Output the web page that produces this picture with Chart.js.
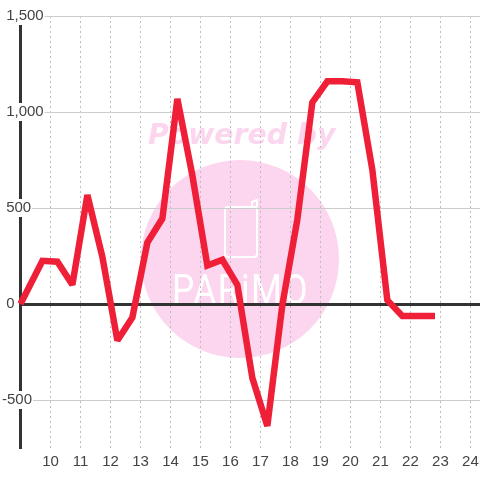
<!DOCTYPE html>
<html>
<head>
<meta charset="utf-8">
<style>
  html, body { margin: 0; padding: 0; background: #fff; }
  canvas { display: block; }
</style>
</head>
<body>
<canvas id="grafico" width="480" height="480"></canvas>
<script src="https://cdn.jsdelivr.net/npm/chart.js@4"></script>
<script>
const hours = [9, 9.73, 10.23, 10.73, 11.23, 11.73, 12.23, 12.73, 13.23, 13.73, 14.23, 14.73, 15.23, 15.73, 16.23, 16.73, 17.23, 17.73, 18.23, 18.73, 19.23, 19.73, 20.23, 20.73, 21.23, 21.73, 22.23, 22.82];
const values = [0, 225, 220, 100, 568, 245, -190, -70, 320, 445, 1068, 670, 200, 230, 100, -385, -635, -5, 440, 1050, 1160, 1160, 1155, 700, 20, -62, -62, -62];

const xTicks = [9, 10, 11, 12, 13, 14, 15, 16, 17, 18, 19, 20, 21, 22, 23, 24];
const yTicks = [-750, -500, -250, 0, 250, 500, 750, 1000, 1250, 1500];
const yLabels = [null, '-500', null, ' 0', null, ' 500', null, ' 1,000', null, ' 1,500'];

const pink = '#fbd6ee';

// logo de fondo, va debajo de la rejilla
const watermark = {
  id: 'watermark',
  beforeDraw(chart) {
    const c = chart.ctx;
    c.save();
    c.fillStyle = '#fff';
    c.fillRect(0, 0, 480, 480);

    c.fillStyle = pink;
    c.beginPath();
    c.arc(240, 259, 99, 0, Math.PI * 2);
    c.fill();

    c.font = 'italic bold 28.3px "DejaVu Sans"';
    c.textAlign = 'left';
    c.textBaseline = 'alphabetic';
    c.fillText('Powered by', 148, 144);

    c.strokeStyle = '#fff';
    c.lineWidth = 2;
    c.beginPath();
    c.roundRect(225, 207, 32, 50, 3);
    c.moveTo(252, 207);
    c.lineTo(252, 202);
    c.lineTo(257, 200);
    c.lineTo(257, 207);
    c.stroke();

    c.fillStyle = '#fff';
    c.font = '400 43px Roboto';
    c.letterSpacing = '1.8px';
    c.translate(172, 304);
    c.scale(0.82, 1);
    c.fillText('PARiMO', 0, 0);
    c.restore();
  },
  beforeDatasetsDraw(chart) {
    // picos cortados como en el original
    chart.ctx.miterLimit = 2;
  }
};

new Chart(document.getElementById('grafico').getContext('2d'), {
  type: 'line',
  data: {
    datasets: [{
      data: hours.map((h, i) => ({ x: h, y: values[i] })),
      borderColor: '#f01f38',
      borderWidth: 6.5,
      borderJoinStyle: 'miter',
      tension: 0,
      pointRadius: 0,
      clip: false
    }]
  },
  options: {
    responsive: false,
    animation: false,
    layout: { padding: { left: 2, top: 16, right: 0, bottom: 0 } },
    plugins: { legend: { display: false }, title: { display: false }, tooltip: { enabled: false } },
    scales: {
      x: {
        type: 'linear',
        min: 9,
        max: 24.32,
        afterBuildTicks(scale) { scale.ticks = xTicks.map(v => ({ value: v })); },
        afterFit(scale) {
          scale.height = 32;
          scale.paddingLeft = 0;
          scale.paddingRight = 0;
        },
        border: { display: false, dash: [2, 3] },
        grid: { color: '#bdbdbd', lineWidth: 1, drawTicks: false },
        ticks: {
          autoSkip: false,
          maxRotation: 0,
          padding: 5,
          color: '#444',
          font: { family: '"Liberation Sans"', size: 15 },
          callback: v => (v === 9 ? null : String(v))
        }
      },
      y: {
        type: 'linear',
        min: -750,
        max: 1500,
        afterBuildTicks(scale) { scale.ticks = yTicks.map(v => ({ value: v })); },
        afterFit(scale) { scale.width = 18.5; },
        border: { display: true, color: '#333', width: 3 },
        grid: {
          drawTicks: false,
          color: ctx => (ctx.tick && ctx.tick.value === 0 ? '#333' : '#ccc'),
          lineWidth: ctx => (ctx.tick && ctx.tick.value === 0 ? 3 : 1)
        },
        ticks: {
          autoSkip: false,
          mirror: true,
          padding: -18.5,
          color: '#444',
          font: { family: '"Liberation Sans"', size: 15 },
          showLabelBackdrop: true,
          backdropColor: '#fff',
          backdropPadding: { top: 0, bottom: 0, left: 0, right: 1 },
          callback: (v) => yLabels[yTicks.indexOf(v)]
        }
      }
    }
  },
  plugins: [watermark]
});
</script>
</body>
</html>
